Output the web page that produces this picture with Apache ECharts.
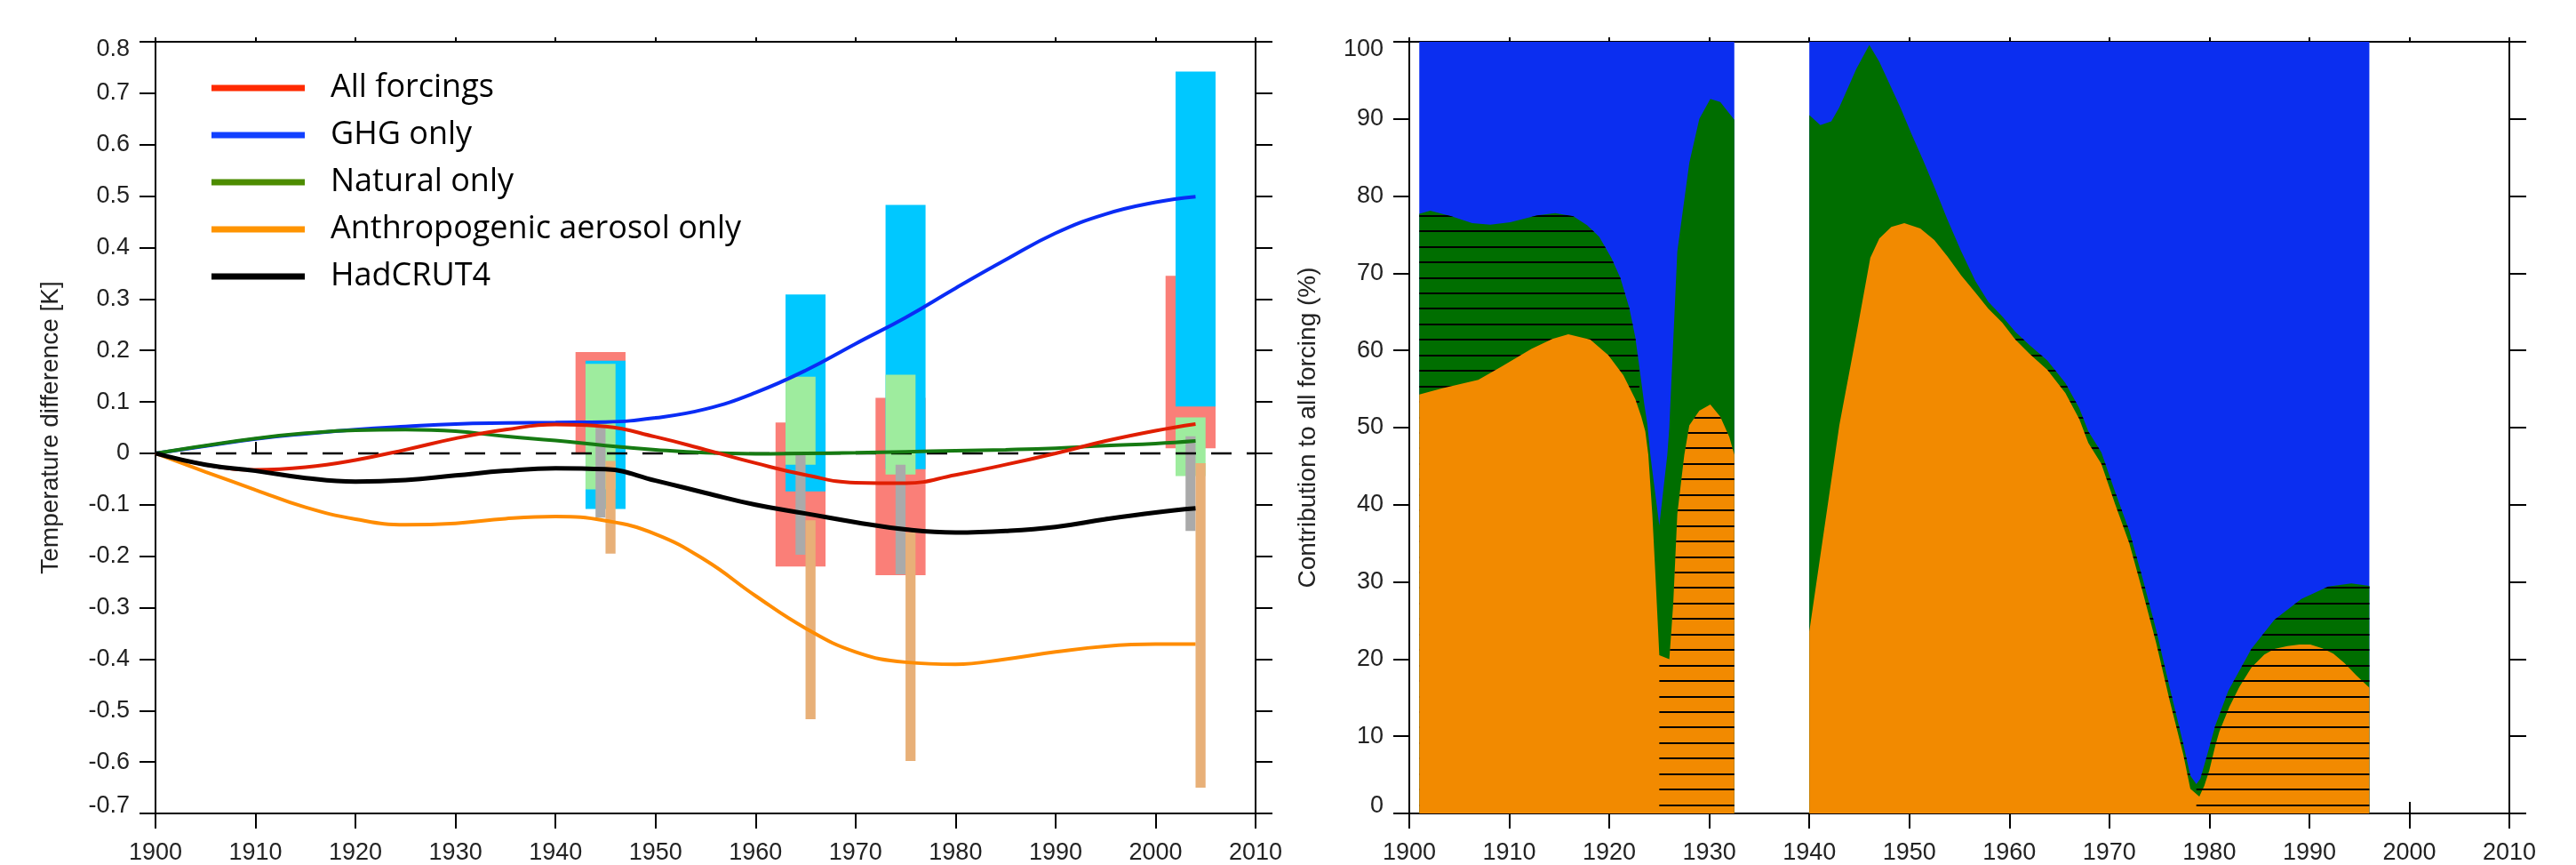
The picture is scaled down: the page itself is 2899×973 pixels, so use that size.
<!DOCTYPE html>
<html><head><meta charset="utf-8">
<script src="https://cdn.jsdelivr.net/npm/echarts@6/dist/echarts.min.js"></script>
<style>html,body{margin:0;padding:0;background:#fff}#c{width:2899px;height:973px}</style>
</head><body><div id="c"></div>
<script>
// ---------------- Left panel data (temperature difference, K) ----------------
const years = [1900,1905,1910,1915,1920,1925,1930,1935,1940,1945,1950,1955,1960,1965,1970,1975,1980,1985,1990,1995,2000,2004];
const allForcings = [0,-0.022,-0.032,-0.027,-0.013,0.007,0.029,0.046,0.056,0.052,0.032,0.007,-0.019,-0.042,-0.057,-0.058,-0.042,-0.022,0.0,0.024,0.044,0.057];
const ghgOnly     = [0,0.014,0.028,0.038,0.046,0.052,0.057,0.059,0.060,0.061,0.069,0.086,0.118,0.161,0.213,0.264,0.321,0.376,0.428,0.465,0.488,0.499];
const naturalOnly = [0,0.015,0.029,0.039,0.045,0.046,0.043,0.033,0.025,0.015,0.007,0.001,-0.001,0.0,0.001,0.003,0.005,0.007,0.010,0.015,0.019,0.024];
const aerosolOnly = [0,-0.036,-0.071,-0.105,-0.128,-0.139,-0.136,-0.127,-0.123,-0.131,-0.157,-0.208,-0.277,-0.340,-0.386,-0.406,-0.410,-0.400,-0.386,-0.375,-0.371,-0.371];
const hadcrut4    = [0,-0.022,-0.034,-0.048,-0.055,-0.052,-0.043,-0.034,-0.029,-0.031,-0.053,-0.077,-0.100,-0.117,-0.134,-0.148,-0.154,-0.151,-0.143,-0.128,-0.115,-0.107];

// uncertainty bars: one per epoch (start year of epoch), [low, high]
const barEpochs = [1942, 1962, 1972, 2001];
const allRange = [[0.0,0.197],[-0.220,0.060],[-0.237,0.108],[0.010,0.345]];
const ghgRange = [[-0.108,0.180],[-0.074,0.309],[-0.031,0.483],[0.091,0.742]];
const natRange = [[-0.070,0.174],[-0.022,0.149],[-0.041,0.153],[-0.044,0.070]];
const obsRange = [[-0.125,0.051],[-0.197,0.000],[-0.235,-0.022],[-0.151,0.033]];
const aerRange = [[-0.195,-0.015],[-0.517,-0.130],[-0.598,-0.154],[-0.650,-0.019]];

// ---------------- Right panel data (contribution to all forcing, %) ----------------
const ghgTopA = [[1901,100],[1932.5,100]];
const ghgTopB = [[1940,100],[1996,100]];
const natTopA = [[1901,77.7],[1902.1,78.1],[1904.2,77.4],[1906.3,76.5],[1908.1,76.3],[1910.1,76.6],[1912.8,77.5],[1914.6,77.8],[1916.4,77.4],[1917.8,76.2],[1919,74.7],[1920.2,72],[1921.1,69.4],[1922,65.5],[1922.6,61.7],[1923,57.9],[1923.5,53],[1923.8,50.5],[1924.1,46.5],[1925,37.3],[1925.8,46.5],[1926,50],[1926.8,72.8],[1928,84.3],[1929,90],[1930.1,92.6],[1931.1,92.2],[1932.5,89.9]];
const natTopB = [[1940,90.5],[1941.1,89.2],[1942.2,89.7],[1943,91.5],[1944.7,96.5],[1946,99.6],[1947,97.4],[1949.1,91.5],[1950.2,88.1],[1951.4,84.6],[1952.5,81.2],[1953.8,77],[1955.2,72.8],[1956.6,69],[1957.9,66.3],[1959.3,64.4],[1960.6,62.4],[1962,60.7],[1963.8,58.7],[1965.6,55.8],[1967,52.5],[1967.9,49.5],[1969.2,46.8],[1970.6,41.6],[1972,36.6],[1973.3,30.6],[1974.7,23.7],[1976,16.5],[1977.4,9.0],[1978.1,4.9],[1978.7,3.8],[1979.1,4.5],[1979.7,7.2],[1980.6,11.4],[1981.9,15.9],[1984.2,21.3],[1986.5,25.1],[1989.2,27.8],[1991.9,29.4],[1994.2,29.8],[1996,29.5]];
const aerTopA = [[1901,54.3],[1903.3,55.1],[1906.9,56.2],[1909.2,57.9],[1912.2,60.2],[1914.3,61.5],[1915.9,62.1],[1918.1,61.4],[1919.9,59.4],[1921.4,56.8],[1922.6,53.7],[1923.2,51.4],[1923.6,49.5],[1923.9,46.5],[1924.3,38.8],[1924.6,31.2],[1925,20.5],[1926,20],[1926.2,23.6],[1926.4,27.4],[1926.8,38.8],[1927.5,46.5],[1928,50.3],[1929,52.2],[1930.1,53],[1931.1,51.4],[1932,48.8],[1932.5,46.5]];
const aerTopB = [[1940,23.6],[1943,50.3],[1944.7,62],[1946.1,72],[1947,74.5],[1948.2,76],[1949.5,76.5],[1951.1,75.8],[1952.5,74.3],[1953.8,72.2],[1955.2,69.7],[1956.6,67.5],[1957.9,65.4],[1959.3,63.6],[1960.6,61.4],[1962,59.6],[1963.8,57.5],[1965.6,54.5],[1967,51.1],[1967.9,48],[1969.2,45.3],[1970.6,40],[1972,35],[1973.3,28.9],[1974.7,22],[1976,14.8],[1977.4,7.6],[1978.1,3.2],[1979,2.2],[1979.5,3.6],[1980,5.6],[1980.6,8.8],[1981,10.6],[1982,13.8],[1983,16.4],[1984.2,18.9],[1985.5,20.6],[1986.5,21.3],[1987.8,21.7],[1989,21.9],[1990.1,21.9],[1991.3,21.4],[1992.4,20.7],[1993.5,19.5],[1994.7,17.9],[1996,16.3]];
// hatched periods
const hatchNatSpans = [[1901,1923],[1960.6,1978.1]];
const hatchAerSpans = [[1925,1932.5]];
const hatchAllSpans = [[1978.7,1996]];
const hatchStart = 1.07, hatchStep = 2.01;

// ---------------- styles ----------------
const FONT = 'Liberation Sans';
const LBL = '#222';
const C = {
  all:'#e01e00', ghg:'#0a2cf5', nat:'#167a12', aer:'#ff8c00', obs:'#000',
  legAll:'#ff2a00', legGhg:'#1240ff', legNat:'#4d8c00', legAer:'#ff9400', legObs:'#000',
  barAll:'#fa7f78', barGhg:'#00c8ff', barNat:'#9eec9e', barObs:'#aaaaaa', barAer:'#e8b078',
  aBlue:'#0b2ef0', aGreen:'#006e00', aOrange:'#f28a00'
};
// bar horizontal spans relative to epoch start (years)
const barSpan = {all:[0,5], ghg:[1,5], nat:[1,4], obs:[2,3], aer:[3,4]};

const chart = echarts.init(document.getElementById('c'), null, {width:2899, height:973, renderer:'canvas'});

function pairs(xs, ys){ return xs.map((x,i)=>[x, ys[i]]); }
function joinSeg(a, b){ return a.concat([[(a[a.length-1][0]+b[0][0])/2, '-']], b); }
function spanData(points, spans){
  const out = [];
  spans.forEach((s,i)=>{
    if (i>0) out.push([s[0]-0.05,'-']);
    points.forEach(p=>{ if (p[0] >= s[0]-1e-9 && p[0] <= s[1]+1e-9) out.push(p); });
  });
  return out;
}
function barData(ranges, key){
  return barEpochs.map((e,i)=>[e+barSpan[key][0], e+barSpan[key][1], ranges[i][0], ranges[i][1]]);
}
function rectRender(color){
  return function(params, api){
    const a = api.coord([api.value(0), api.value(3)]);
    const b = api.coord([api.value(1), api.value(2)]);
    return {type:'rect', shape:{x:a[0], y:a[1], width:b[0]-a[0], height:b[1]-a[1]}, style:{fill:color}};
  };
}
function barSeries(ranges, key, color){
  return {type:'custom', xAxisIndex:0, yAxisIndex:0, silent:true, renderItem:rectRender(color),
    encode:{x:[0,1], y:[2,3]}, data:barData(ranges, key)};
}
function curve(name, ys, color, width){
  return {name, type:'line', xAxisIndex:0, yAxisIndex:0, data:pairs(years, ys), smooth:0.45,
    symbol:'none', silent:true, lineStyle:{color, width}, itemStyle:{color}};
}
function area(id, data, color){
  return {id, type:'line', xAxisIndex:2, yAxisIndex:2, data, symbol:'none', silent:true,
    connectNulls:false, lineStyle:{width:0, opacity:0}, areaStyle:{color, opacity:1}};
}

const axLine = {show:true, onZero:false, lineStyle:{color:'#000', width:2}};
function xAxis(grid, pos, tickLen, showLabel, extra){
  return Object.assign({gridIndex:grid, type:'value', min:1900, max:2010, interval:10, position:pos,
    axisLine:axLine, splitLine:{show:false},
    axisTick:{show:true, inside:false, length:tickLen, lineStyle:{color:'#000', width:2}},
    axisLabel:{show:showLabel, margin:31, fontSize:27, fontFamily:FONT, color:LBL, showMinLabel:true, showMaxLabel:true,
      formatter: v => String(Math.round(v))}
  }, extra||{});
}
function yAxis(grid, pos, min, max, interval, showLabel, fmt, name, gap){
  const o = {gridIndex:grid, type:'value', min, max, interval, position:pos,
    axisLine:axLine, splitLine:{show:false},
    axisTick:{show:true, inside:false, length:pos==='left'?18:19, lineStyle:{color:'#000', width:2}},
    axisLabel:{show:showLabel, margin:29, fontSize:27, fontFamily:FONT, color:LBL, showMinLabel:true, showMaxLabel:true,
      formatter:fmt,
      rich:{top:{padding:[18,0,0,0], fontSize:27, fontFamily:FONT, color:LBL},
            bot:{padding:[0,0,16,0], fontSize:27, fontFamily:FONT, color:LBL}}}
  };
  if (name){ Object.assign(o, {name, nameLocation:'middle', nameGap:gap,
    nameTextStyle:{fontSize:28, fontFamily:FONT, color:LBL}}); }
  return o;
}
const fmtLeft = v => { const r = Math.round(v*10)/10; const s = r===0 ? '0' : r.toFixed(1);
  if (r === 0.8) return '{top|'+s+'}'; if (r === -0.7) return '{bot|'+s+'}'; return s; };
const fmtRight = v => { const r = Math.round(v); if (r===100) return '{top|100}'; if (r===0) return '{bot|0}'; return String(r); };

const option = {
  animation:false,
  backgroundColor:'#fff',
  textStyle:{fontFamily:FONT},
  grid:[
    {left:175, top:47, width:1238, height:873},
    {left:1586, top:47, width:1238, height:873}
  ],
  xAxis:[
    xAxis(0,'bottom',17,true),
    xAxis(0,'top',5,false),
    xAxis(1,'bottom',17,true),
    xAxis(1,'top',5,false),
    xAxis(0,'top',13,false,{axisLine:{show:false}, axisTick:{show:true, length:13, customValues:[1900,1910], lineStyle:{color:'#000', width:2}}}),
    xAxis(1,'top',13,false,{axisLine:{show:false}, axisTick:{show:true, length:13, customValues:[2000,2010], lineStyle:{color:'#000', width:2}}})
  ],
  yAxis:[
    yAxis(0,'left',-0.7,0.8,0.1,true,fmtLeft,'Temperature difference [K]',104),
    yAxis(0,'right',-0.7,0.8,0.1,false,fmtLeft),
    yAxis(1,'left',0,100,10,true,fmtRight,'Contribution to all forcing (%)',100),
    yAxis(1,'right',0,100,10,false,fmtRight)
  ],
  legend:{
    show:true, orient:'vertical', left:233, top:74, icon:'rect', itemWidth:105, itemHeight:7, itemGap:13,
    selectedMode:false,
    textStyle:{fontFamily:'Open Sans', fontSize:36, color:'#000', lineHeight:40, padding:[0,0,0,24]},
    data:[
      {name:'All forcings', itemStyle:{color:C.legAll, borderWidth:0}},
      {name:'GHG only', itemStyle:{color:C.legGhg, borderWidth:0}},
      {name:'Natural only', itemStyle:{color:C.legNat, borderWidth:0}},
      {name:'Anthropogenic aerosol only', itemStyle:{color:C.legAer, borderWidth:0}},
      {name:'HadCRUT4', itemStyle:{color:C.legObs, borderWidth:0}}
    ]
  },
  series:[
    barSeries(allRange,'all',C.barAll),
    barSeries(ghgRange,'ghg',C.barGhg),
    barSeries(natRange,'nat',C.barNat),
    barSeries(obsRange,'obs',C.barObs),
    barSeries(aerRange,'aer',C.barAer),
    {type:'line', xAxisIndex:0, yAxisIndex:0, data:[[1900,0],[2010,0]], symbol:'none', silent:true,
      lineStyle:{color:'#000', width:2.5, type:[23,17], dashOffset:-28}},
    curve('Anthropogenic aerosol only', aerosolOnly, C.aer, 4),
    curve('GHG only', ghgOnly, C.ghg, 4),
    curve('Natural only', naturalOnly, C.nat, 4),
    curve('All forcings', allForcings, C.all, 4),
    curve('HadCRUT4', hadcrut4, C.obs, 5),
    // right panel
    area('blue', joinSeg(ghgTopA, ghgTopB), C.aBlue),
    area('green', joinSeg(natTopA, natTopB), C.aGreen),
    area('hatchNat', spanData(natTopA.concat(natTopB), hatchNatSpans), 'rgba(0,0,0,0)'),
    area('orange', joinSeg(aerTopA, aerTopB), C.aOrange),
    area('hatchAer', spanData(aerTopA.concat(aerTopB), hatchAerSpans), 'rgba(0,0,0,0)'),
    area('hatchAll', spanData(natTopA.concat(natTopB), hatchAllSpans), 'rgba(0,0,0,0)')
  ]
};
chart.setOption(option);

// hatch pattern: horizontal lines placed through the right panel's y axis
const cv = document.createElement('canvas');
cv.width = 8; cv.height = 973;
const ctx = cv.getContext('2d');
ctx.fillStyle = '#000';
for (let v = hatchStart; v < 100; v += hatchStep){
  const y = chart.convertToPixel({xAxisIndex:2, yAxisIndex:2}, [1950, v])[1];
  ctx.fillRect(0, Math.round(y)-1, 8, 2);
}
const hatch = {image:cv, repeat:'repeat'};
chart.setOption({series:[
  {id:'hatchNat', areaStyle:{color:hatch, opacity:1}},
  {id:'hatchAer', areaStyle:{color:hatch, opacity:1}},
  {id:'hatchAll', areaStyle:{color:hatch, opacity:1}}
]});
</script>
</body></html>
